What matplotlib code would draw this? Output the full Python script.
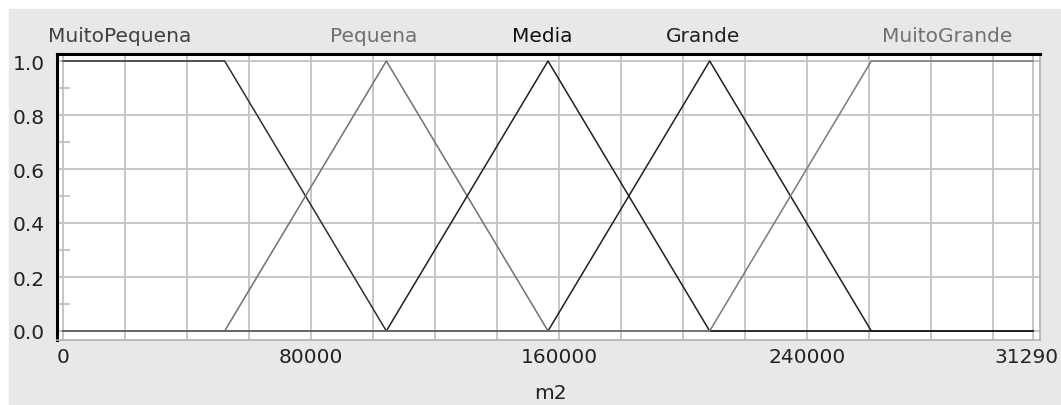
import numpy as np
import matplotlib
matplotlib.use('Agg')
import matplotlib.pyplot as plt
import matplotlib.transforms as mtransforms
from matplotlib.patches import Rectangle

# membership functions (area in m2)
x_max = 312900
set_names = ['MuitoPequena', 'Pequena', 'Media', 'Grande', 'MuitoGrande']
muito_pequena_x = [0, 52150, 104300, 312900]
muito_pequena_y = [1, 1, 0, 0]
pequena_x = [0, 52150, 104300, 156450, 312900]
pequena_y = [0, 0, 1, 0, 0]
media_x = [0, 104300, 156450, 208600, 312900]
media_y = [0, 0, 1, 0, 0]
grande_x = [0, 156450, 208600, 260750, 312900]
grande_y = [0, 0, 1, 0, 0]
muito_grande_x = [0, 208600, 260750, 312900]
muito_grande_y = [0, 0, 1, 1]

x_ticks = [0, 80000, 160000, 240000, 312900]
# the last label is shown truncated in the original chart
x_tick_labels = ['0', '80000', '160000', '240000', '31290']
y_ticks = [0.0, 0.2, 0.4, 0.6, 0.8, 1.0]
y_tick_labels = ['0.0', '0.2', '0.4', '0.6', '0.8', '1.0']
x_label = 'm2'

W, H = 1061, 406
fig = plt.figure(figsize=(W / 100, H / 100), dpi=100)
fig.patch.set_facecolor('white')
fig.patches.append(Rectangle((9 / W, 0), 1 - 9 / W, (H - 10) / H,
                             transform=fig.transFigure, color='#e8e8e8',
                             zorder=-5))

# axes placed so that 0 -> px 63, x_max -> px 1033, 1.0 -> px 62, 0.0 -> px 332
ax_l, ax_r, ax_t, ax_b = 57, 1040, 55, 341
ax = fig.add_axes([ax_l / W, (H - ax_b) / H, (ax_r - ax_l) / W,
                   (ax_b - ax_t) / H])
ax.set_facecolor('white')
sx = (1033 - 63) / x_max
ax.set_xlim(-(63 - ax_l) / sx, x_max + (ax_r - 1033) / sx)
ax.set_ylim(-(ax_b - 332) / 270, 1 + (62 - ax_t) / 270)

grid_kw = dict(color='#c6c6c6', lw=1.4, zorder=0)
for gx in list(np.arange(0, 300001, 20000)) + [x_max]:
    ax.axvline(gx, **grid_kw)
for gy in y_ticks:
    ax.axhline(gy, **grid_kw)

series = [
    (muito_pequena_x, muito_pequena_y, '#303030'),
    (pequena_x, pequena_y, '#707070'),
    (media_x, media_y, '#202020'),
    (grande_x, grande_y, '#202020'),
    (muito_grande_x, muito_grande_y, '#7a7a7a'),
]
for xs, ys, c in series:
    ax.plot(xs, ys, color=c, lw=1.1, zorder=3)

# set labels above the plot
label_x = [18400, 100300, 154500, 206400, 285200]
label_colors = ['#404040', '#707070', '#101010', '#202020', '#707070']
for name, lx, c in zip(set_names, label_x, label_colors):
    ax.text(lx, 1 + (62 - 36) / 270, name, ha='center', va='center',
            fontsize=14.5, color=c, clip_on=False)

ax.set_xticks(x_ticks)
ax.set_xticklabels(x_tick_labels)
ax.set_yticks(y_ticks)
ax.set_yticklabels(y_tick_labels)
ax.set_yticks([0.1, 0.3, 0.5, 0.7, 0.9], minor=True)
ax.tick_params(axis='both', which='major', length=0, labelsize=14.5,
               labelcolor='#222222')
ax.tick_params(axis='x', pad=5)
ax.tick_params(axis='y', pad=9)
ax.tick_params(axis='y', which='minor', direction='in', length=9.5,
               width=1.2, color='#bdbdbd')

# last tick label sits against the right edge of the picture
last = ax.get_xticklabels()[-1]
last.set_horizontalalignment('right')
last.set_transform(last.get_transform() + mtransforms.ScaledTranslation(
    26 / 100, 0, fig.dpi_scale_trans))

for side in ['left', 'top']:
    ax.spines[side].set_color('black')
    ax.spines[side].set_linewidth(2.2)
for side in ['right', 'bottom']:
    ax.spines[side].set_color('#b0b0b0')
    ax.spines[side].set_linewidth(1.2)

fig.text(550 / W, 1 - 394 / H, x_label, ha='center', va='center',
         fontsize=14.5, color='#222222')

fig.savefig('out.png', dpi=100)
